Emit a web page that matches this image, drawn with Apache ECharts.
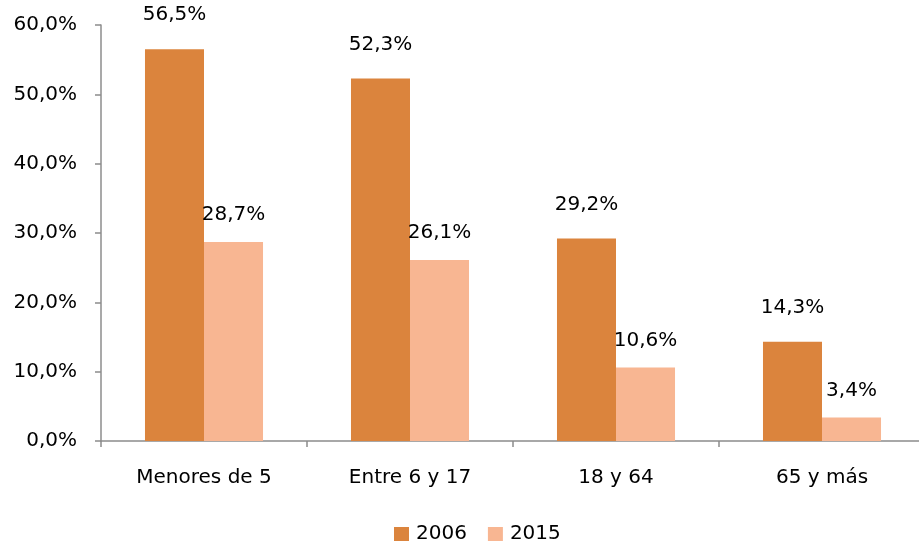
<!DOCTYPE html>
<html>
<head>
<meta charset="utf-8">
<script src="https://cdn.jsdelivr.net/npm/echarts@6/dist/echarts.min.js"></script>
<style>
  html, body { margin: 0; padding: 0; background: #fff; overflow: hidden; }
  /* the original axis runs a few pixels past the right edge */
  #chart { width: 925px; height: 543px; }
</style>
</head>
<body>
<div id="chart"></div>
<script>
var categories = ["Menores de 5", "Entre 6 y 17", "18 y 64", "65 y más"];
var values2006 = [56.5, 52.3, 29.2, 14.3];
var values2015 = [28.7, 26.1, 10.6, 3.4];
var seriesNames = ["2006", "2015"];

var FONT = "DejaVu Sans";
var axisGray = "#8c8c8c";

// 56.5 -> "56,5%"
function pct(v) {
  return v.toFixed(1).replace(".", ",") + "%";
}

var myChart = echarts.init(document.getElementById("chart"));

myChart.setOption({
  animation: false,
  color: ["#db843d", "#f8b692"],
  textStyle: { fontFamily: FONT },
  grid: {
    left: 101,
    top: 25,
    right: 0,
    bottom: 102
  },
  legend: {
    data: seriesNames,
    left: 394,
    top: 524,
    padding: 0,
    itemWidth: 15,
    itemHeight: 14,
    itemGap: 21,
    icon: "rect",
    textStyle: { fontFamily: FONT, fontSize: 20, color: "#000", padding: [0, 0, 0, 2] }
  },
  xAxis: {
    type: "category",
    data: categories,
    axisLine: { lineStyle: { color: axisGray, width: 1.5 } },
    axisTick: { show: true, length: 6, lineStyle: { color: axisGray, width: 1.5 } },
    axisLabel: { fontFamily: FONT, fontSize: 20, color: "#000", margin: 27 }
  },
  yAxis: {
    type: "value",
    min: 0,
    max: 60,
    interval: 10,
    axisLine: { show: true, lineStyle: { color: axisGray, width: 1.5 } },
    axisTick: { show: true, length: 6, lineStyle: { color: axisGray, width: 1.5 } },
    splitLine: { show: false },
    axisLabel: {
      fontFamily: FONT,
      fontSize: 20,
      color: "#000",
      margin: 24,
      formatter: function (v) { return pct(v); }
    }
  },
  series: [
    {
      name: seriesNames[0],
      type: "bar",
      data: values2006,
      barGap: "0%",
      barCategoryGap: "42.7%",
      label: {
        show: true,
        position: "top",
        distance: 24,
        fontFamily: FONT,
        fontSize: 20,
        color: "#000",
        formatter: function (p) { return pct(p.value); }
      }
    },
    {
      name: seriesNames[1],
      type: "bar",
      data: values2015,
      barGap: "0%",
      barCategoryGap: "42.7%",
      label: {
        show: true,
        position: "top",
        distance: 17,
        fontFamily: FONT,
        fontSize: 20,
        color: "#000",
        formatter: function (p) { return pct(p.value); }
      }
    }
  ]
});

window.onresize = function () {
  myChart.resize();
};
</script>
</body>
</html>
